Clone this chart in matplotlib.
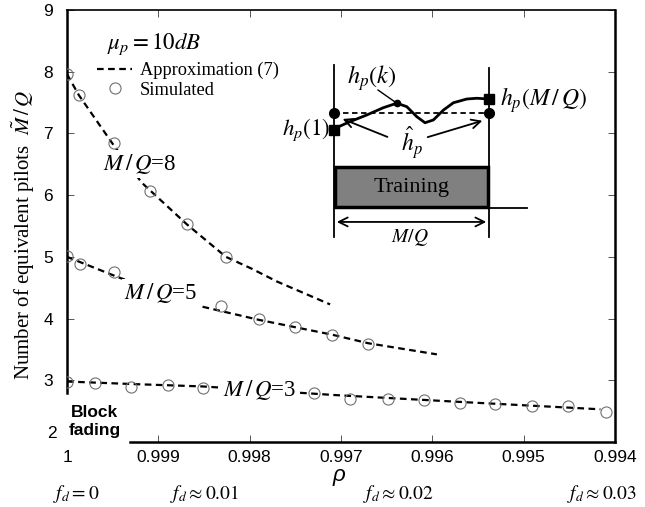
import matplotlib
matplotlib.use("Agg")
import matplotlib.pyplot as plt
from matplotlib.patches import Rectangle

plt.rcParams["mathtext.fontset"] = "stix"
plt.rcParams["font.family"] = "Liberation Serif"

# simulated equivalent pilots vs. correlation coefficient rho
rho_sim_8 = [1.0, 0.99987, 0.99949, 0.99909, 0.99869, 0.99826]
sim_8 = [7.96, 7.62, 6.85, 6.06, 5.53, 5.00]
rho_sim_5 = [1.0, 0.99986, 0.99949, 0.99831, 0.99790, 0.99750, 0.99710, 0.99670]
sim_5 = [5.02, 4.89, 4.76, 4.21, 4.00, 3.86, 3.74, 3.59]
rho_sim_3 = [1.0, 0.99969, 0.99930, 0.99889, 0.99851, 0.99730, 0.99690,
             0.99649, 0.99609, 0.99570, 0.99531, 0.99491, 0.99451, 0.99410]
sim_3 = [2.97, 2.95, 2.89, 2.92, 2.88, 2.79, 2.70,
         2.70, 2.68, 2.64, 2.62, 2.59, 2.59, 2.48]

# approximation (7)
rho_apx_8 = [1.0, 0.99987, 0.99949, 0.99918, 0.99869, 0.99826, 0.99798, 0.99770, 0.99712]
apx_8 = [7.96, 7.62, 6.81, 6.20, 5.53, 5.00, 4.81, 4.60, 4.23]
rho_apx_5 = [1.0, 0.99944, 0.99851, 0.99790, 0.99750, 0.99710, 0.99670, 0.99595]
apx_5 = [5.00, 4.67, 4.19, 3.98, 3.86, 3.74, 3.60, 3.42]
rho_apx_3 = [1.0, 0.99930, 0.99851, 0.99706, 0.99570, 0.99416]
apx_3 = [2.98, 2.94, 2.90, 2.76, 2.65, 2.53]

xticks = [1.0, 0.999, 0.998, 0.997, 0.996, 0.995, 0.994]
xticklabels = ["1", "0.999", "0.998", "0.997", "0.996", "0.995", "0.994"]
yticks = [3, 4, 5, 6, 7, 8, 9]
doppler_rho = [0.9999, 0.99849, 0.99637, 0.99414]
doppler_labels = [r"$f_d=0$", r"$f_d\approx0.01$", r"$f_d\approx0.02$", r"$f_d\approx0.03$"]

# training block sketch (x: 0..1 spans one block of M/Q symbols)
curve_x = [0.006, 0.103, 0.211, 0.318, 0.405, 0.469, 0.534, 0.587, 0.641,
           0.706, 0.770, 0.856, 0.921, 1.0]
curve_y = [-0.099, -0.056, -0.013, 0.034, 0.063, 0.041, -0.024, -0.063, -0.045,
           0.019, 0.066, 0.090, 0.095, 0.090]

fig = plt.figure(figsize=(6.45, 5.07), dpi=100)
ax = fig.add_axes([0.1039, 0.1282, 0.8496, 0.852])

dash = dict(color="k", lw=1.6, dashes=(3, 2))
circ = dict(ls="none", marker="o", ms=8, mfc="none", mec="#707070", mew=0.8)

ax.plot(rho_apx_8, apx_8, label="Approximation (7)", zorder=2, **dash)
ax.plot(rho_apx_5, apx_5, zorder=2, **dash)
ax.plot(rho_apx_3, apx_3, zorder=2, **dash)
ax.plot(rho_sim_8, sim_8, label="Simulated", zorder=3, **circ)
ax.plot(rho_sim_5, sim_5, zorder=3, **circ)
ax.plot(rho_sim_3, sim_3, zorder=3, **circ)

box = dict(fc="white", ec="none", pad=1.5)
for x, y, lab in [(0.99920, 6.50, "8"), (0.99897, 4.42, "5"), (0.99789, 2.85, "3")]:
    ax.text(x, y, r"$M\,/\,Q$=" + lab, fontsize=16.5, ha="center", va="center",
            bbox=box, zorder=4)

ax.text(0.99905, 8.44, r"$\mu_p = 10dB$", fontsize=16.5, ha="center", va="center")
ax.legend(loc="upper left", bbox_to_anchor=(0.055, 0.88), frameon=False,
          fontsize=13.2, borderpad=0, borderaxespad=0, handlelength=1.9,
          handletextpad=0.45, labelspacing=0.14)

ax.set_xlim(1.0, 0.994)
ax.set_ylim(2, 9)
ax.set_xticks(xticks)
ax.set_xticklabels(xticklabels)
ax.set_yticks(yticks)
for lab in ax.get_xticklabels() + ax.get_yticklabels():
    lab.set_family("Liberation Sans")
    lab.set_fontsize(12.5)
ax.tick_params(direction="in", length=5, width=0.7, color="#555555",
               top=True, right=True)
ax.tick_params(axis="x", pad=6)
ax.tick_params(axis="y", pad=10)
ax.xaxis.get_major_ticks()[0].tick1line.set_visible(False)

for side in ["left", "bottom", "right"]:
    ax.spines[side].set_linewidth(1.8)
ax.spines["top"].set_linewidth(1.2)
ax.spines["left"].set_bounds(2.79, 9)
ax.spines["bottom"].set_bounds(0.99931, 0.994)

ax.annotate("2", xy=(0, 2), xycoords=("axes fraction", "data"), xytext=(-10, 9),
            textcoords="offset pixels", ha="right", va="center",
            family="Liberation Sans", fontsize=12.5)
ax.text(0.99970, 2.34, "Block\nfading", ha="center", va="center",
        family="Liberation Sans", weight="bold", fontsize=12.5, linespacing=1.25)

ax.text(0.99702, 1.45, "ρ", ha="center", va="center", family="Liberation Sans",
        style="italic", fontsize=16, clip_on=False)
for x, lab in zip(doppler_rho, doppler_labels):
    ax.text(x, 1.15, lab, ha="center", va="center", fontsize=14, clip_on=False)

ax.set_ylabel(r"Number of equivalent pilots  $\tilde{M}\,/\,Q$", fontsize=15)
ax.yaxis.set_label_coords(-0.055, 0.48)

# inset: channel over one training block
ins = fig.add_axes([0.4186, 0.5069, 0.5814, 0.3846])
ins.set_xlim(-0.413, 2.006)
ins.set_ylim(-0.884, 0.374)
ins.axis("off")

ins.plot([0, 0], [0.31, -0.80], color="k", lw=1.3)
ins.plot([1, 1], [0.29, -0.80], color="k", lw=1.3)
ins.plot([0, 1], [0, 0], color="k", lw=1.3, dashes=(3, 2))
ins.plot(curve_x, curve_y, color="k", lw=2, solid_joinstyle="round")
ins.plot([0, 1], [0, 0], "ko", ms=7)
ins.plot([0, 1], [-0.11, 0.09], "ks", ms=7)
ins.plot([0.405], [0.063], "ko", ms=4.5)
ins.add_patch(Rectangle((0.006, -0.606), 0.988, 0.258, fc="#808080", ec="k", lw=2.5))
ins.plot([0.994, 1.245], [-0.613, -0.613], color="k", lw=1.3)
ins.annotate("", xy=(0.0, -0.703), xytext=(1.0, -0.703),
             arrowprops=dict(arrowstyle="<->", lw=1.3, mutation_scale=16))
ins.annotate("", xy=(0.039, -0.032), xytext=(0.361, -0.161),
             arrowprops=dict(arrowstyle="->", lw=1.3, mutation_scale=16))
ins.annotate("", xy=(0.974, -0.045), xytext=(0.587, -0.161),
             arrowprops=dict(arrowstyle="->", lw=1.3, mutation_scale=16))
ins.plot([0.284, 0.405], [0.148, 0.063], color="k", lw=1)

ins.text(0.5, -0.48, "Training", fontsize=16, ha="center", va="center")
ins.text(0.49, -0.806, r"$M/Q$", fontsize=14, ha="center", va="center")
ins.text(-0.026, -0.11, r"$h_p(1)$", fontsize=16.5, ha="right", va="center")
ins.text(1.07, 0.084, r"$h_p(M\,/\,Q)$", fontsize=17, ha="left", va="center")
ins.text(0.245, 0.226, r"$h_p(k)$", fontsize=17.5, ha="center", va="center")
ins.text(0.503, -0.194, r"$\hat{h}_p$", fontsize=17, ha="center", va="center")

fig.savefig("out.png", dpi=100)
